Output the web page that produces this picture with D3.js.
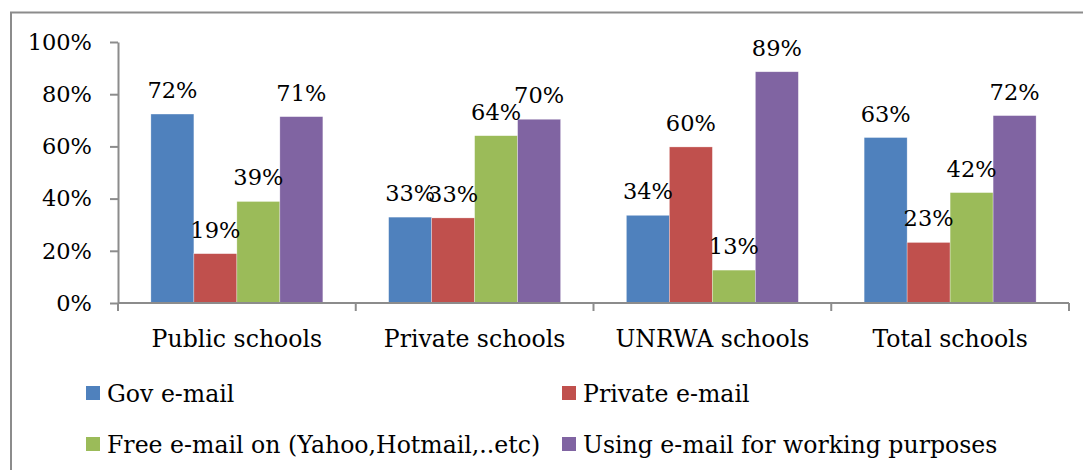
<!DOCTYPE html>
<html>
<head>
<meta charset="utf-8">
<script src="https://cdn.jsdelivr.net/npm/d3@7"></script>
<style>
  body { margin: 0; background: #fff; }
  text { font-family: 'DejaVu Serif', serif; fill: #000; }
</style>
</head>
<body>
<div id="chart"></div>
<script>
let categories = ['Public schools', 'Private schools', 'UNRWA schools', 'Total schools']
let seriesNames = ['Gov e-mail', 'Private e-mail', 'Free e-mail on (Yahoo,Hotmail,..etc)', 'Using e-mail for working purposes']
let govValues = [72.4, 32.9, 33.6, 63.4]
let privateValues = [18.9, 32.6, 59.8, 23.2]
let freeValues = [38.9, 64.1, 12.6, 42.3]
let workValues = [71.4, 70.4, 88.6, 71.8]
let yTicks = [0, 20, 40, 60, 80, 100]

let colors = ['#4F81BD', '#C0504D', '#9BBB59', '#8064A2']
let series = [govValues, privateValues, freeValues, workValues]

let width = 1083
let height = 470
let margin = { top: 42, left: 118, right: 14, bottom: 167 }
let fontSize = '22.5px'
let wideFont = '23.6px'

let svg = d3
  .select('#chart')
  .append('svg')
  .attr('width', width)
  .attr('height', height)

// outer frame (top and left edges only visible)
svg
  .append('path')
  .attr('d', `M11,${height} V12.5 H${width}`)
  .attr('fill', 'none')
  .attr('stroke', '#8c8c8c')
  .attr('stroke-width', 2)

let x0 = d3
  .scaleBand()
  .domain(categories)
  .range([margin.left, width - margin.right])

let x1 = d3
  .scaleBand()
  .domain(d3.range(series.length))
  .range([0, x0.bandwidth()])
  .paddingInner(0)
  .paddingOuter(0.765)

let y = d3
  .scaleLinear()
  .domain([0, 100])
  .range([height - margin.bottom, margin.top])

let g = svg.append('g')

categories.forEach((c, ci) => {
  let grp = g.append('g').attr('transform', `translate(${x0(c)},0)`)
  series.forEach((vals, si) => {
    grp
      .append('rect')
      .attr('x', x1(si))
      .attr('y', y(vals[ci]))
      .attr('width', x1.bandwidth())
      .attr('height', y(0) - y(vals[ci]))
      .attr('fill', colors[si])
      .attr('stroke', 'rgba(255,255,255,0.5)')
      .attr('stroke-width', 0.6)
  })
  // labels drawn after bars (33%/33% overlap as in the original)
  series.forEach((vals, si) => {
    grp
      .append('text')
      .attr('x', x1(si) + x1.bandwidth() / 2)
      .attr('y', y(vals[ci]) - 16)
      .attr('text-anchor', 'middle')
      .style('font-size', fontSize)
      .text(Math.round(vals[ci]) + '%')
  })
})

// y axis
let yAxis = svg
  .append('g')
  .attr('transform', `translate(${margin.left},0)`)
  .call(d3.axisLeft(y).tickValues(yTicks).tickSize(8).tickSizeOuter(0).tickFormat(d => d + '%'))
yAxis.select('.domain').attr('stroke', '#8c8c8c').attr('stroke-width', 2)
yAxis.selectAll('.tick line').attr('stroke', '#8c8c8c').attr('stroke-width', 2)
yAxis
  .selectAll('.tick text')
  .attr('x', -26)
  .style('font-size', fontSize)
  .style('font-family', "'DejaVu Serif', serif")

// x axis
let xAxisG = svg.append('g').attr('transform', `translate(0,${y(0)})`)
xAxisG
  .append('line')
  .attr('x1', margin.left)
  .attr('x2', width - margin.right)
  .attr('stroke', '#8c8c8c')
  .attr('stroke-width', 2)
let boundaries = categories.map(c => x0(c)).concat([x0(categories[categories.length - 1]) + x0.bandwidth()])
xAxisG
  .selectAll('.xtick')
  .data(boundaries)
  .enter()
  .append('line')
  .attr('x1', d => d)
  .attr('x2', d => d)
  .attr('y1', 0)
  .attr('y2', 8)
  .attr('stroke', '#8c8c8c')
  .attr('stroke-width', 2)
xAxisG
  .selectAll('.xlabel')
  .data(categories)
  .enter()
  .append('text')
  .attr('x', d => x0(d) + x0.bandwidth() / 2)
  .attr('y', 44)
  .attr('text-anchor', 'middle')
  .style('font-size', wideFont)
  .text(d => d)

// legend
let legendPos = [[86, 394], [562, 394], [86, 445], [562, 445]]
seriesNames.forEach((name, i) => {
  let lg = svg.append('g').attr('transform', `translate(${legendPos[i][0]},${legendPos[i][1]})`)
  lg.append('rect').attr('x', 0).attr('y', -8).attr('width', 14).attr('height', 14).attr('fill', colors[i])
  lg.append('text').attr('x', 21).attr('y', 8).style('font-size', wideFont).text(name)
})
</script>
</body>
</html>
